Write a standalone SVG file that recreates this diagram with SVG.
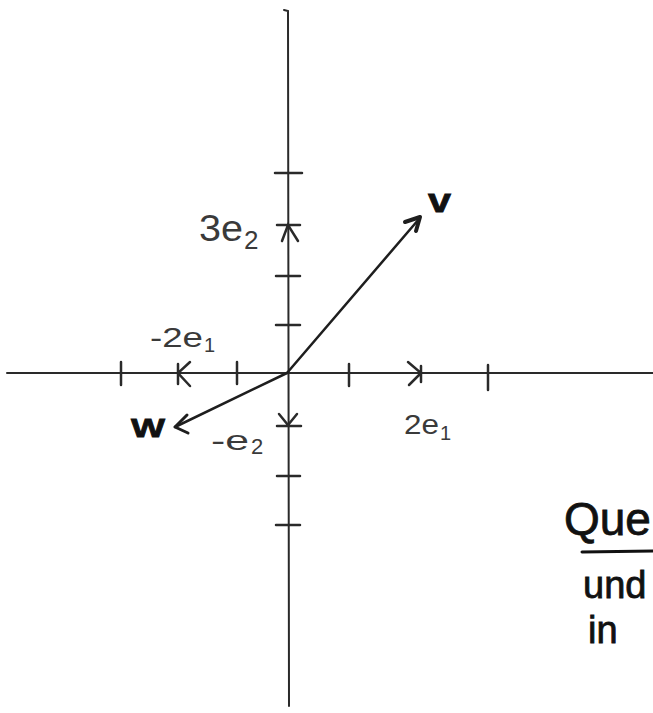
<svg xmlns="http://www.w3.org/2000/svg" width="653" height="713" viewBox="0 0 653 713">
<style>
.ax{stroke:#2a2a2a;stroke-width:2;fill:none;stroke-linecap:round}
.tk{stroke:#2a2a2a;stroke-width:2.5;fill:none;stroke-linecap:round}
.vec{stroke:#1e1e1e;stroke-width:2.5;fill:none;stroke-linecap:round;stroke-linejoin:round}
.lbl{font-family:"Liberation Sans",Arial,sans-serif;fill:#3a3a3a}
.hd{font-family:"Liberation Sans",Arial,sans-serif;fill:#111;stroke:#111;stroke-width:0.8}
</style>
<rect width="653" height="713" fill="#ffffff"/>
<g id="axes">
<path class="ax" d="M284 10 L288 11 L289 706"/>
<path class="ax" d="M7 373 L653 373"/>
</g>
<g id="x-ticks">
<path class="tk" d="M121 362 L121 385"/>
<path class="tk" d="M237 362 L237 384"/>
<path class="tk" d="M349 364 L349 386"/>
<path class="tk" d="M488 365 L488 390"/>
<path class="tk" d="M178 364 L178 384 M190 362 L178 373 L190 386"/>
<path class="tk" d="M408 362 L421 373 L409 385 M421 366 L421 382"/>
</g>
<g id="y-ticks">
<path class="tk" d="M275 173 L302 173"/>
<path class="tk" d="M276 276 L300 276"/>
<path class="tk" d="M276 325 L300 325"/>
<path class="tk" d="M277 476 L300 476"/>
<path class="tk" d="M276 525 L300 525"/>
<path class="tk" d="M277 225 L300 225 M282 241 L288 225 L298 241"/>
<path class="tk" d="M277 426 L301 426 M279 414 L288 425 L297 414"/>
</g>
<g id="connectors">
<g id="vec-v">
<path class="vec" d="M287 373 L419 219"/>
<path class="vec" d="M405 222 L420 217 L416 231" style="stroke-width:4"/>
</g>
<g id="vec-w">
<path class="vec" d="M287 373 L175 427"/>
<path class="vec" d="M187 415 L175 427 L188 433" style="stroke-width:3"/>
</g>
</g>
<g id="label-3e2">
<text class="lbl" x="199" y="241" font-size="36" textLength="44" lengthAdjust="spacingAndGlyphs">3e</text>
<text class="lbl" x="244" y="249" font-size="26">2</text>
</g>
<g id="label-m2e1">
<text class="lbl" x="150" y="347" font-size="28" textLength="53" lengthAdjust="spacingAndGlyphs">-2e</text>
<text class="lbl" x="204" y="352" font-size="20">1</text>
</g>
<g id="label-2e1">
<text class="lbl" x="404" y="434" font-size="27" textLength="35" lengthAdjust="spacingAndGlyphs">2e</text>
<text class="lbl" x="440" y="440" font-size="20">1</text>
</g>
<g id="label-me2">
<text class="lbl" x="211" y="450" font-size="27" textLength="38" lengthAdjust="spacingAndGlyphs">-e</text>
<text class="lbl" x="251" y="454" font-size="22">2</text>
</g>
<g id="label-w">
<text class="hd" x="131" y="437" font-size="26" font-weight="bold" textLength="34" lengthAdjust="spacingAndGlyphs">W</text>
</g>
<g id="label-v">
<text class="hd" x="428" y="212" font-size="34" font-weight="bold" textLength="23" lengthAdjust="spacingAndGlyphs">v</text>
</g>
<g id="note">
<text class="hd" x="564" y="535" font-size="46">Que</text>
<path d="M582 552 L653 551" stroke="#111" stroke-width="3" fill="none" stroke-linecap="round"/>
<text class="hd" x="583" y="598" font-size="38">und</text>
<text class="hd" x="588" y="643" font-size="38">in</text>
</g>
</svg>
